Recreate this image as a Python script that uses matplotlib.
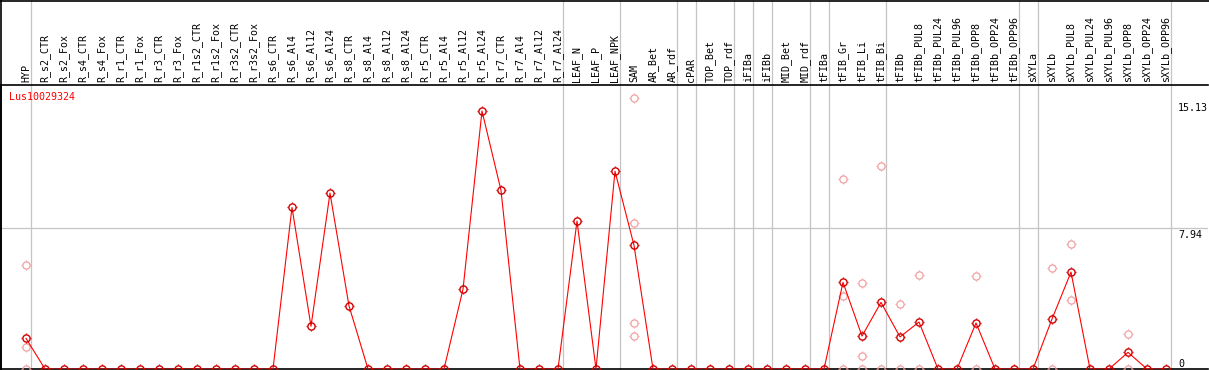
import matplotlib
matplotlib.use("Agg")
import matplotlib.pyplot as plt
import numpy as np
from matplotlib.path import Path
from matplotlib.lines import Line2D

# column labels (samples)
samples = ["HYP", "R_s2_CTR", "R_s2_Fox", "R_s4_CTR", "R_s4_Fox", "R_r1_CTR", "R_r1_Fox",
           "R_r3_CTR", "R_r3_Fox", "R_r1s2_CTR", "R_r1s2_Fox", "R_r3s2_CTR", "R_r3s2_Fox",
           "R_s6_CTR", "R_s6_Al4", "R_s6_Al12", "R_s6_Al24", "R_s8_CTR", "R_s8_Al4",
           "R_s8_Al12", "R_s8_Al24", "R_r5_CTR", "R_r5_Al4", "R_r5_Al12", "R_r5_Al24",
           "R_r7_CTR", "R_r7_Al4", "R_r7_Al12", "R_r7_Al24", "LEAF_N", "LEAF_P", "LEAF_NPK",
           "SAM", "AR_Bet", "AR_rdf", "cPAR", "TOP_Bet", "TOP_rdf", "iFIBa", "iFIBb",
           "MID_Bet", "MID_rdf", "tFIBa", "tFIB_Gr", "tFIB_Li", "tFIB_Bi", "tFIBb",
           "tFIBb_PUL8", "tFIBb_PUL24", "tFIBb_PUL96", "tFIBb_OPP8", "tFIBb_OPP24",
           "tFIBb_OPP96", "sXYLa", "sXYLb", "sXYLb_PUL8", "sXYLb_PUL24", "sXYLb_PUL96",
           "sXYLb_OPP8", "sXYLb_OPP24", "sXYLb_OPP96"]

# mean expression per sample
mean_vals = [1.73, 0, 0, 0, 0, 0, 0, 0, 0, 0, 0, 0, 0,
             0, 9.12, 2.41, 9.93, 3.56, 0, 0, 0, 0, 0, 4.50, 14.56,
             10.08, 0, 0, 0, 8.35, 0, 11.16,
             6.98, 0, 0, 0, 0, 0, 0, 0,
             0, 0, 0, 4.89, 1.86, 3.76, 1.81,
             2.65, 0, 0, 2.60, 0,
             0, 0, 2.82, 5.47, 0, 0,
             0.94, 0, 0]

# individual replicates (light points)
rep_samples = ["HYP", "HYP", "HYP", "SAM", "SAM", "SAM", "SAM",
               "tFIB_Gr", "tFIB_Gr", "tFIB_Gr", "tFIB_Li", "tFIB_Li", "tFIB_Li",
               "tFIB_Bi", "tFIB_Bi", "tFIBb", "tFIBb", "tFIBb_PUL8", "tFIBb_PUL8",
               "tFIBb_OPP8", "tFIBb_OPP8", "sXYLb", "sXYLb", "sXYLb_PUL8", "sXYLb_PUL8",
               "sXYLb_OPP8", "sXYLb_OPP8"]
rep_vals = [5.85, 1.22, 0, 15.28, 8.24, 2.60, 1.86,
            10.71, 4.10, 0, 4.84, 0.73, 0,
            11.44, 0, 3.67, 0, 5.29, 0,
            5.23, 0, 5.68, 0, 7.04, 3.89,
            1.96, 0]

# group separators sit just after these samples
sep_after = ["HYP", "R_r7_Al24", "LEAF_NPK", "AR_rdf", "cPAR", "TOP_rdf", "iFIBa",
             "iFIBb", "MID_rdf", "tFIBa", "tFIB_Bi", "tFIBb_OPP96", "sXYLa", "sXYLb_OPP96"]

y_ticks = [0, 7.94, 15.13]
gene = "Lus10029324"

W, H = 1209, 370
fig = plt.figure(figsize=(W / 100, H / 100), dpi=100)
# plot area in pixels: x 1..1208, y 85..369
ax = fig.add_axes([1 / W, 1 / H, 1207 / W, 284 / H])

x = np.arange(len(samples))
pos = {s: i for i, s in enumerate(samples)}

# four short ticks around each circle
tick_v = [(0, 0.7), (0, 1.0), (0, -0.7), (0, -1.0), (0.7, 0), (1.0, 0), (-0.7, 0), (-1.0, 0)]
tick_c = [Path.MOVETO, Path.LINETO] * 4
ticks = Path(tick_v, tick_c)

mono = "DejaVu Sans Mono"
fs = 7.2

ax.set_xlim((1 - 26) / 19, (1208 - 26) / 19)
ax.set_ylim(0, 284 / 17.72)


def draw_marks(xs, ys, color, z, lw):
    ax.plot(xs, ys, linestyle="none", marker="o", markersize=5.2, markerfacecolor="none",
            markeredgecolor=color, markeredgewidth=lw, zorder=z)
    ax.plot(xs, ys, linestyle="none", marker=ticks, markersize=7.8,
            markeredgecolor=color, markeredgewidth=lw * 0.9, zorder=z)


# light replicate points
rx = [pos[s] for s in rep_samples]
draw_marks(rx, rep_vals, "#f0a0a0", 3, 0.9)

# mean line
ax.plot(x, mean_vals, color="#ff0000", linewidth=0.8, zorder=4)
draw_marks(x, mean_vals, "#d00000", 5, 1.0)

# grey separators running through the header
for s in sep_after:
    ax.axvline(pos[s] + 0.25, 0, 369 / 284, color="#c4c4c4", linewidth=0.9,
               clip_on=False, zorder=1)
ax.axhline(y_ticks[1], color="#c4c4c4", linewidth=0.9, zorder=1)

# y labels inside the plot at the right
xr = ax.get_xlim()[0] + (1178 - 1) / 19
ax.text(xr, y_ticks[0], "0", family=mono, fontsize=fs, ha="left", va="bottom")
ax.text(xr, y_ticks[1] - 0.1, "%.2f" % y_ticks[1], family=mono, fontsize=fs, ha="left", va="top")
ax.text(xr, y_ticks[2] - 0.1, "%.2f" % y_ticks[2], family=mono, fontsize=fs, ha="left", va="top")

# rotated sample labels above the plot
trans = ax.get_xaxis_transform()
for i, s in enumerate(samples):
    ax.text(i, 1 + 3 / 284, s, transform=trans, rotation=90, ha="center", va="bottom",
            family=mono, fontsize=fs, clip_on=False)

ax.text(8 / 19 + ax.get_xlim()[0], 1 - 12 / 284, gene, transform=trans, color="#ff0000",
        family=mono, fontsize=fs, ha="left", va="center")

ax.set_xticks([])
ax.set_yticks([])
for side in ["left", "top", "bottom"]:
    ax.spines[side].set_color("black")
    ax.spines[side].set_linewidth(1.2)
ax.spines["right"].set_visible(False)

# outer frame: top and left edges
fig.add_artist(Line2D([0, 1], [1 - 0.6 / H, 1 - 0.6 / H], color="black", linewidth=1.2))
fig.add_artist(Line2D([1 / W, 1 / W], [0, 1], color="black", linewidth=1.2))

fig.savefig("out.png", dpi=100)
